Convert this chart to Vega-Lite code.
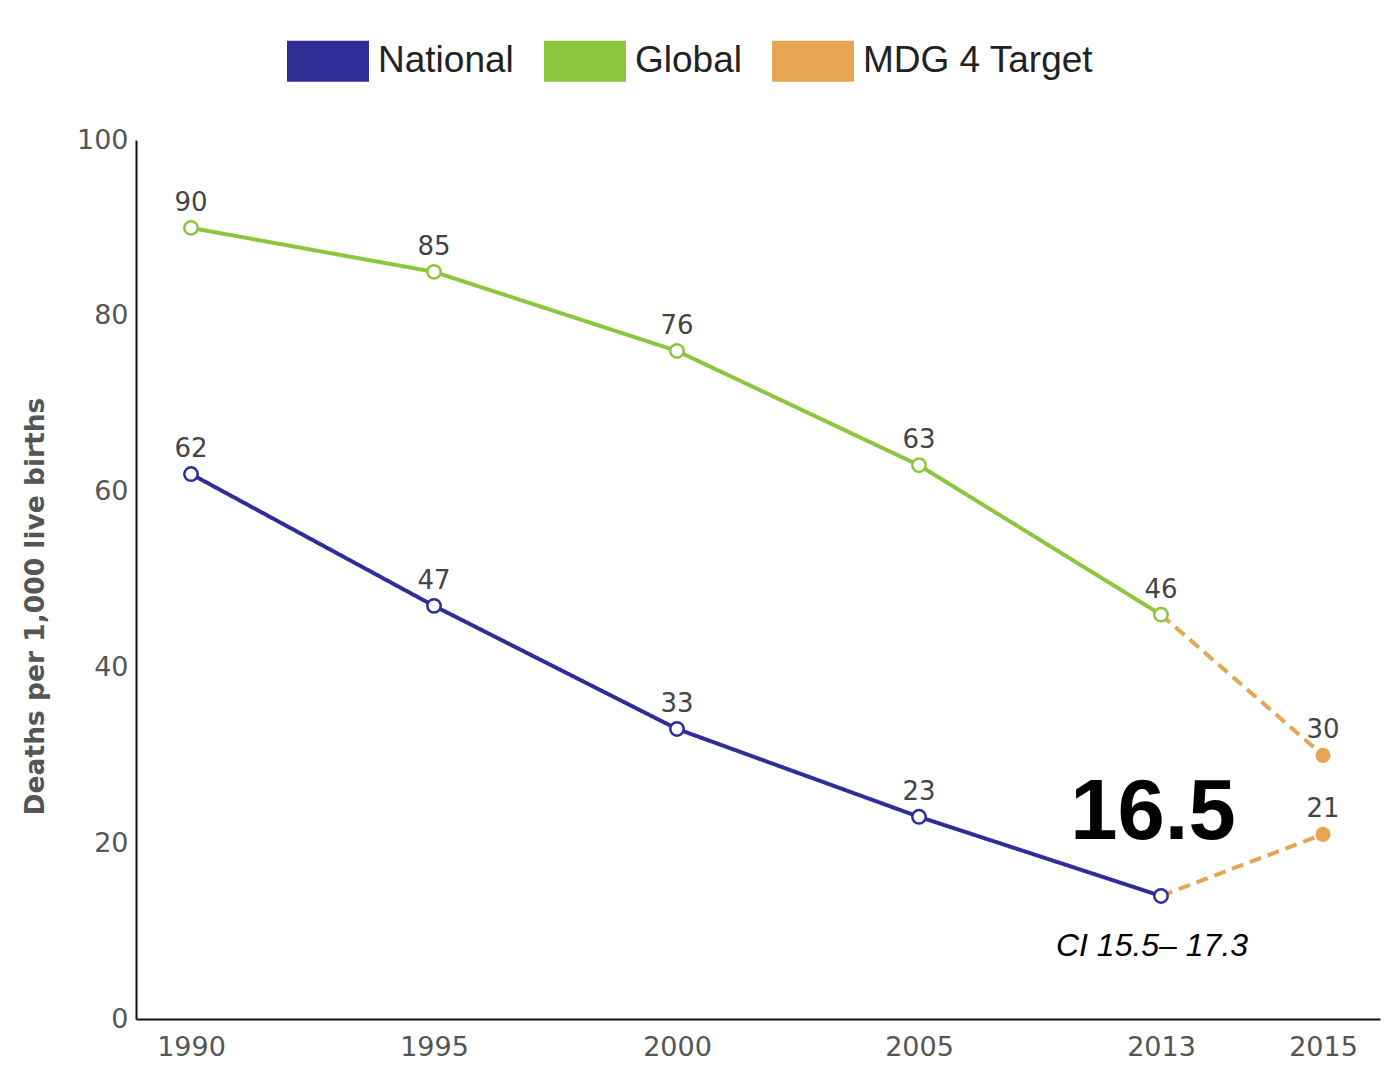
{
  "$schema": "https://vega.github.io/schema/vega-lite/v6.json",
  "width": 1244,
  "height": 879,
  "autosize": {"type": "none"},
  "padding": {"left": 136, "top": 140, "right": 5, "bottom": 52},
  "background": "white",
  "config": {"view": {"stroke": null}, "font": "DejaVu Sans"},
  "data": {
    "values": [
      {"year": 1990, "value": 62, "series": "National", "line": "nat"},
      {"year": 1995, "value": 47, "series": "National", "line": "nat"},
      {"year": 2000, "value": 33, "series": "National", "line": "nat"},
      {"year": 2005, "value": 23, "series": "National", "line": "nat"},
      {"year": 2013, "value": 14, "series": "National", "line": "nat"},
      {"year": 1990, "value": 90, "series": "Global", "line": "glob"},
      {"year": 1995, "value": 85, "series": "Global", "line": "glob"},
      {"year": 2000, "value": 76, "series": "Global", "line": "glob"},
      {"year": 2005, "value": 63, "series": "Global", "line": "glob"},
      {"year": 2013, "value": 46, "series": "Global", "line": "glob"},
      {"year": 2013, "value": 14, "series": "MDG 4 Target", "line": "natT"},
      {"year": 2015, "value": 21, "series": "MDG 4 Target", "line": "natT"},
      {"year": 2013, "value": 46, "series": "MDG 4 Target", "line": "globT"},
      {"year": 2015, "value": 30, "series": "MDG 4 Target", "line": "globT"}
    ]
  },
  "encoding": {
    "x": {
      "field": "year",
      "type": "quantitative",
      "scale": {
        "domain": [1988.87, 1990, 1995, 2000, 2005, 2013, 2015, 2015.7],
        "range": [0, 55, 298, 541, 783, 1025, 1187, 1244]
      },
      "axis": {
        "values": [1990, 1995, 2000, 2005, 2013, 2015],
        "format": "d",
        "title": null,
        "ticks": false,
        "grid": false,
        "domainColor": "#111",
        "domainWidth": 2,
        "labelFontSize": 27,
        "labelColor": "#555",
        "labelPadding": 15,
        "labelFlush": false,
        "labelOverlap": false,
        "labelFont": "DejaVu Sans"
      }
    },
    "y": {
      "field": "value",
      "type": "quantitative",
      "scale": {"domain": [0, 100], "nice": false},
      "axis": {
        "values": [0, 20, 40, 60, 80, 100],
        "ticks": false,
        "grid": false,
        "domainColor": "#111",
        "domainWidth": 2,
        "labelFontSize": 27,
        "labelColor": "#555",
        "labelPadding": 8,
        "labelFont": "DejaVu Sans",
        "title": "Deaths per 1,000 live births",
        "titleFont": "DejaVu Sans",
        "titleFontSize": 26.5,
        "titleFontWeight": "bold",
        "titleColor": "#555",
        "titleX": -101,
        "titleY": 466,
        "titleAngle": -90,
        "titleAlign": "center",
        "titleBaseline": "middle"
      }
    }
  },
  "layer": [
    {
      "mark": {"type": "line", "strokeWidth": 4},
      "encoding": {
        "color": {
          "field": "series",
          "type": "nominal",
          "scale": {
            "domain": ["National", "Global", "MDG 4 Target"],
            "range": ["#2e2e96", "#8cc63f", "#e6a550"]
          },
          "legend": {
            "orient": "none",
            "legendX": 151,
            "legendY": -120,
            "direction": "horizontal",
            "title": null,
            "symbolType": "M-1,-0.5L1,-0.5L1,0.5L-1,0.5Z",
            "symbolSize": 6724,
            "symbolStrokeWidth": 0,
            "labelFontSize": 37,
            "labelFont": "Liberation Sans",
            "labelColor": "#222",
            "labelOffset": 9,
            "labelLimit": 1000,
            "columnPadding": 30,
            "encode": {
              "symbols": {
                "update": {
                  "fill": {"scale": "color", "field": "value"},
                  "fillOpacity": {"value": 1},
                  "opacity": {"value": 1},
                  "strokeWidth": {"value": 0}
                }
              }
            }
          }
        },
        "detail": {"field": "line"},
        "strokeDash": {
          "field": "series",
          "type": "nominal",
          "scale": {
            "domain": ["National", "Global", "MDG 4 Target"],
            "range": [[1, 0], [1, 0], [12, 7]]
          },
          "legend": null
        }
      }
    },
    {
      "transform": [{"filter": "datum.series != 'MDG 4 Target'"}],
      "mark": {"type": "point", "shape": "circle", "filled": false, "fill": "white", "fillOpacity": 1, "opacity": 1, "strokeWidth": 2.5, "size": 180},
      "encoding": {
        "color": {"field": "series", "type": "nominal"}
      }
    },
    {
      "transform": [{"filter": "datum.series == 'MDG 4 Target' && datum.year == 2015"}],
      "mark": {"type": "circle", "size": 230, "opacity": 1},
      "encoding": {
        "color": {"field": "series", "type": "nominal"}
      }
    },
    {
      "transform": [{"filter": "!(datum.year == 2013 && datum.series != 'Global')"}],
      "mark": {"type": "text", "dy": -17, "baseline": "alphabetic", "fontSize": 26, "font": "DejaVu Sans", "fill": "#444"},
      "encoding": {
        "text": {"field": "value", "type": "quantitative"}
      }
    },
    {
      "data": {"values": [{"year": 2013, "value": 14, "note": "16.5"}]},
      "mark": {"type": "text", "dx": -8, "dy": -57, "baseline": "alphabetic", "fontSize": 85, "fontWeight": "bold", "font": "Liberation Sans", "fill": "#000"},
      "encoding": {
        "text": {"field": "note"}
      }
    },
    {
      "data": {"values": [{"year": 2013, "value": 14, "note": "CI 15.5– 17.3"}]},
      "mark": {"type": "text", "dx": -9, "dy": 60, "baseline": "alphabetic", "fontSize": 32, "fontStyle": "italic", "font": "Liberation Sans", "fill": "#000"},
      "encoding": {
        "text": {"field": "note"}
      }
    }
  ]
}
